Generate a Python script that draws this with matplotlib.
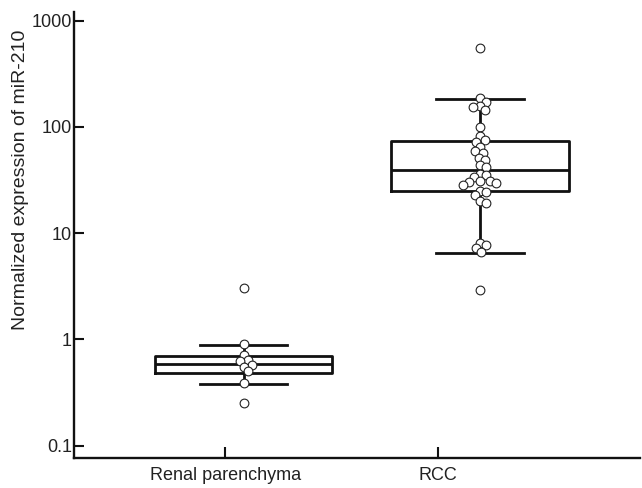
import numpy as np
import matplotlib
matplotlib.use("Agg")
import matplotlib.pyplot as plt
from matplotlib.ticker import FixedLocator, FixedFormatter, NullLocator

plt.rcParams['font.family'] = ['Liberation Sans', 'DejaVu Sans']

# ---- data ----
groups = ["Renal parenchyma", "RCC"]
renal_values = [3.05, 0.91, 0.71, 0.64, 0.63, 0.57, 0.555, 0.50, 0.39, 0.25]
rcc_values = [550, 186, 173, 158, 153, 145, 101, 82, 75.5, 72.7, 65, 60, 57,
              51, 49, 44, 42, 36, 35, 34, 31.2, 31, 30.6, 29.5, 28.4, 25,
              24.6, 22.7, 20, 19.4, 8.1, 7.7, 7.2, 6.6, 2.9]
# box statistics
q1 = [0.48, 25.2]
median = [0.59, 39.4]
q3 = [0.70, 73.8]
whisker_low = [0.38, 6.5]
whisker_high = [0.89, 182]
ytick_values = [0.1, 1, 10, 100, 1000]
ytick_labels = ["0.1", "1", "10", "100", "1000"]
ylabel = "Normalized expression of miR-210"

fig = plt.figure(figsize=(6.42, 4.88), dpi=100)
ax = fig.add_axes([74/642, 1-458/488, 566/642, 446/488])

box_pos = [1, 2]
tick_pos = [0.922, 1.822]

stats = []
for i in range(2):
    stats.append(dict(med=median[i], q1=q1[i], q3=q3[i],
                      whislo=whisker_low[i], whishi=whisker_high[i], fliers=[]))
ax.bxp(stats, positions=box_pos, widths=0.75, capwidths=0.37, showfliers=False,
       boxprops=dict(color='#111111', linewidth=2.0),
       medianprops=dict(color='#111111', linewidth=2.0),
       whiskerprops=dict(color='#111111', linewidth=2.0),
       capprops=dict(color='#111111', linewidth=2.0), manage_ticks=False)

ax.set_yscale('log')
ax.set_xlim(0.283, 2.677)
ax.set_ylim(0.0767, 1208)

# simple beeswarm in pixel space
def swarm(x0, vals, mind=6.5):
    pts = ax.transData.transform(np.column_stack([np.full(len(vals), x0), vals]))
    order = np.argsort(-np.asarray(vals))
    placed = []
    xs = np.zeros(len(vals))
    cands = [0.0]
    for k in range(1, 60):
        cands += [k * 0.5, -k * 0.5]
    for idx in order:
        px, py = pts[idx]
        for c in cands:
            ok = all((px + c - qx) ** 2 + (py - qy) ** 2 >= mind ** 2 for qx, qy in placed)
            if ok:
                placed.append((px + c, py))
                xs[idx] = px + c
                break
    inv = ax.transData.inverted()
    return inv.transform(np.column_stack([xs, pts[:, 1]]))[:, 0]

for pos, vals in zip(box_pos, [renal_values, rcc_values]):
    xs = swarm(pos, vals)
    ax.plot(xs, vals, linestyle='none', marker='o', markersize=6.3,
            markerfacecolor='white', markeredgecolor='#222222',
            markeredgewidth=0.8, zorder=5)

ax.yaxis.set_major_locator(FixedLocator(ytick_values))
ax.yaxis.set_major_formatter(FixedFormatter(ytick_labels))
ax.yaxis.set_minor_locator(NullLocator())
ax.set_xticks(tick_pos)
ax.set_xticklabels(groups)

for s in ['top', 'right']:
    ax.spines[s].set_visible(False)
for s in ['left', 'bottom']:
    ax.spines[s].set_linewidth(1.7)
    ax.spines[s].set_color('#111111')

ax.tick_params(axis='y', direction='in', length=7.5, width=1.5, pad=1.5,
               labelsize=13, colors='#111111', labelcolor='#222222')
ax.tick_params(axis='x', direction='in', length=8, width=1.5, pad=6.5,
               labelsize=13, colors='#111111', labelcolor='#222222')
ax.set_ylabel(ylabel, fontsize=14, color='#222222')
ax.yaxis.set_label_coords(-0.0954, 0.623)
ax.yaxis.label.set_verticalalignment('center')

fig.savefig("out.png", dpi=100)
